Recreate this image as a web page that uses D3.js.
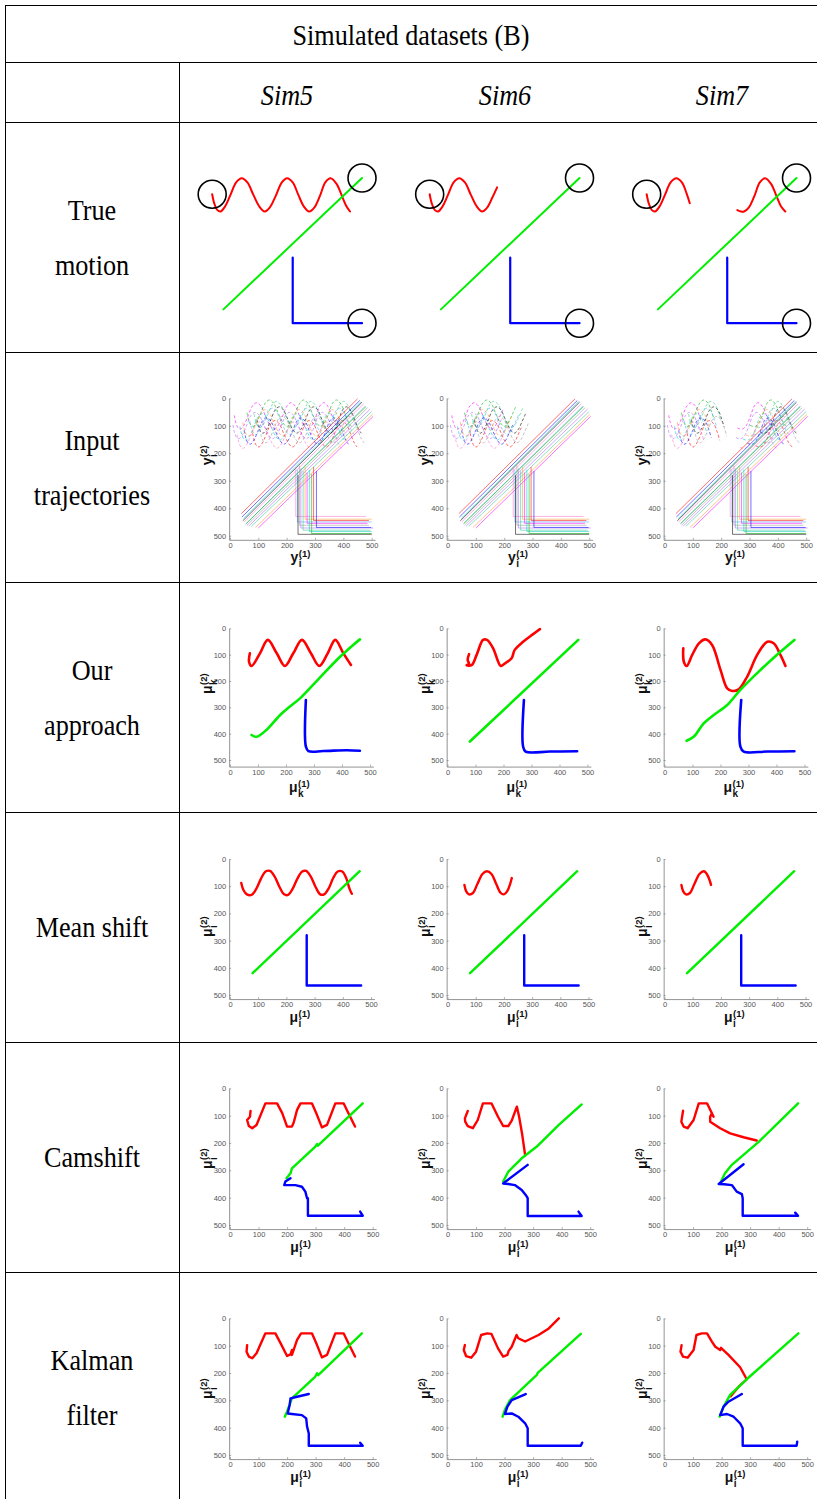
<!DOCTYPE html>
<html>
<head>
<meta charset="utf-8">
<script src="https://cdn.jsdelivr.net/npm/d3@7"></script>
<style>
  body { margin: 0; background: #fff; }
</style>
</head>
<body>
<div id="chart"></div>
<script>
// ---- data (x, y in image pixels of the 500x500 scene, y grows downward) ----
const sims = ["Sim5", "Sim6", "Sim7"];
const rowLabels = [["True", "motion"], ["Input", "trajectories"], ["Our", "approach"],
                   ["Mean shift"], ["Camshift"], ["Kalman", "filter"]];
const tickValues = [0, 100, 200, 300, 400, 500];

// true motion, one list of segments per sim
const truthRed = [
  [[[60,92],[66,120],[74,138],[82,142],[94,128],[108,96],[124,58],[139,46],[154,58],[170,94],[186,128],[200,142],[214,130],[230,96],[246,58],[260,46],[275,58],[290,94],[305,128],[319,142],[333,130],[348,96],[362,58],[376,46],[392,62],[406,96],[418,126],[428,142]]],
  [[[60,92],[66,120],[74,138],[82,142],[94,128],[108,96],[124,58],[139,46],[154,58],[170,94],[186,128],[200,142],[214,130],[228,100],[240,72]]],
  [[[60,92],[66,120],[74,138],[82,142],[94,128],[108,96],[124,58],[139,46],[154,58],[166,88],[175,118]],
   [[302,138],[312,142],[320,142],[333,130],[348,96],[362,58],[376,46],[392,62],[406,96],[418,126],[430,142]]]
];
const truthGreen = [[90,425],[460,45]];
const truthBlue = [[275,275],[275,465],[460,465]];

// input trajectories (noisy copies)
const inDiag = [[40,420,450,2],[42,432,458,8],[45,446,466,14],[50,450,472,20],[55,458,478,28],[60,462,486,34],
                [66,465,494,40],[75,466,500,48],[90,470,503,58],[100,472,505,66],[48,438,463,12],[58,455,480,30]];
const inL = [[232,250,430,480],[238,260,450,500],[245,245,462,490],[250,255,472,505],[258,265,480,495],[265,250,440,500],
             [272,270,455,485],[280,260,485,500],[288,275,492,500],[295,250,445,490],[305,265,470,498],[240,280,495,500]];
const inSineShift = [[-45,-30],[-25,10],[0,-40],[20,35],[-10,25],[35,-15],[-35,40],[10,-10],[45,20],[-50,5],[25,-35],[-15,-5]];
const inColors = ["#ff00ff","#00cccc","#00bb00","#ff0000","#0000ff","#000000","#ff77cc","#55aaff","#999999","#aa66ff","#33cc88","#ff9933"];

// our approach
const oursRed = [
  [[71,95],[68,127],[77,143],[107,95],[135,44],[167,95],[196,143],[226,95],[257,44],[289,95],[319,143],[349,95],[376,44],[405,95],[432,139]],
  [[77,98],[72,120],[77,135],[68,140],[86,140],[104,101],[127,44],[141,44],[163,76],[181,127],[190,143],[211,129],[229,114],[240,82],[270,51],[306,22],[330,3]],
  [[67,76],[69,127],[79,143],[99,101],[123,57],[146,42],[170,63],[200,158],[224,228],[242,238],[265,232],[295,184],[331,101],[367,51],[390,57],[414,101],[432,143]]
];
const oursGreen = [
  [[77,405],[95,412],[131,385],[179,329],[214,297],[250,266],[321,187],[393,108],[440,63],[464,42]],
  [[80,430],[467,44]],
  [[79,427],[105,411],[140,361],[176,329],[224,291],[271,234],[343,158],[414,89],[464,44]]
];
const oursBlue = [
  [[271,272],[271,449],[280,466],[333,466],[417,463],[464,465]],
  [[273,272],[270,449],[279,468],[365,468],[463,467]],
  [[274,272],[271,449],[283,468],[367,468],[464,467]]
];

// mean shift
const msRed = [
  [[40,88],[48,115],[60,130],[76,132],[92,112],[110,72],[126,46],[142,44],[158,64],[176,104],[192,130],[206,132],[222,110],[240,70],[256,46],[270,44],[286,64],[304,104],[320,130],[334,130],[350,108],[366,70],[382,46],[398,46],[412,70],[424,110],[432,128]],
  [[60,95],[66,118],[76,130],[90,125],[106,92],[124,55],[140,45],[156,55],[172,90],[188,124],[200,130],[212,118],[222,92],[228,70]],
  [[60,95],[66,118],[76,130],[90,125],[106,92],[124,55],[140,45],[150,55],[160,78],[165,95]]
];
const msGreen = [[80,420],[460,45]];
const msBlue = [[272,280],[272,465],[465,465]];

// camshift
const camRed = [
  [[72,83],[70,104],[60,116],[66,138],[78,146],[93,134],[124,55],[165,55],[183,91],[200,140],[217,140],[223,126],[235,79],[247,55],[287,55],[305,98],[322,143],[340,134],[369,55],[398,55],[415,91],[438,140]],
  [[71,83],[61,110],[62,122],[71,138],[89,146],[106,116],[124,55],[154,55],[177,104],[195,138],[213,138],[225,118],[243,67],[251,104],[262,171],[272,244]],
  [[65,82],[59,122],[67,140],[81,146],[102,116],[120,55],[149,55],[172,104],[164,95],[160,104],[160,122],[195,146],[230,165],[277,179],[323,191]]
];
const camGreen = [
  [[198,329],[212,311],[217,293],[299,213],[305,204],[308,210],[465,55]],
  [[195,341],[213,305],[260,256],[313,213],[390,134],[470,59]],
  [[198,341],[212,311],[236,280],[331,195],[426,98],[468,55]]
];
const camBlue = [
  [[212,329],[194,341],[190,354],[229,354],[252,360],[264,378],[270,402],[273,402],[273,466],[465,466],[456,451]],
  [[281,280],[195,348],[213,350],[236,354],[260,372],[274,390],[281,402],[281,467],[470,467],[459,451]],
  [[277,278],[190,350],[209,351],[236,354],[253,378],[271,387],[274,402],[274,466],[468,466],[458,455]]
];

// kalman filter
const kfRed = [
  [[60,98],[58,122],[66,140],[78,146],[93,128],[124,55],[159,55],[177,91],[200,138],[212,132],[217,116],[217,134],[235,79],[249,55],[287,55],[305,98],[322,143],[340,134],[369,55],[398,55],[415,91],[438,140]],
  [[61,98],[57,116],[65,138],[83,144],[100,122],[118,61],[139,55],[154,57],[177,110],[195,140],[210,134],[214,120],[225,104],[242,61],[248,73],[272,85],[319,61],[355,37],[390,0]],
  [[60,98],[56,122],[65,140],[81,144],[102,116],[112,61],[131,55],[149,55],[166,85],[178,104],[195,116],[198,108],[224,134],[265,179],[288,223],[260,250],[232,285]]
];
const kfGreen = [
  [[192,360],[200,341],[217,293],[299,213],[305,201],[309,208],[462,55]],
  [[193,360],[201,335],[219,299],[313,207],[316,200],[467,57]],
  [[193,360],[207,323],[230,280],[288,223],[469,55]]
];
const kfBlue = [
  [[276,277],[235,287],[212,293],[209,317],[202,348],[217,350],[252,354],[267,366],[270,396],[276,421],[276,466],[465,466],[456,455]],
  [[274,277],[225,299],[210,323],[201,350],[225,348],[248,360],[272,384],[281,402],[281,466],[467,466],[472,455]],
  [[271,277],[224,305],[207,323],[195,354],[219,350],[242,360],[265,384],[274,402],[274,466],[463,466],[465,451]]
];

// ---- layout ----
const W = 817, H = 1499;
const rowTop = [122, 352, 582, 812, 1042, 1272];
const colX0 = [230, 447.5, 664.5];
const panel = [
  { dy0: 40.4, dy1: 213.3, dx0: -40.3, w: 187.3, axes: false },
  { dy0: 46.3, dy1: 183.7, dx0: 0, w: 141.7, axes: true, base: "y", sub: "i", ylab: 103, ybot: 515 },
  { dy0: 46.3, dy1: 178,   dx0: 0, w: 140,   axes: true, base: "\u03bc", sub: "k", ylab: 101, ybot: 525 },
  { dy0: 47,   dy1: 183,   dx0: 0, w: 141,   axes: true, base: "\u03bc", sub: "i", ylab: 114, ybot: 515 },
  { dy0: 46.3, dy1: 183,   dx0: 0, w: 142.7, axes: true, base: "\u03bc", sub: "i", ylab: 116, ybot: 515 },
  { dy0: 46.3, dy1: 183,   dx0: 0, w: 142.7, axes: true, base: "\u03bc", sub: "i", ylab: 116, ybot: 515 }
];
const RED = "#ff0000", GREEN = "#00ee00", BLUE = "#0000ff";

const svg = d3.select("#chart").append("svg")
  .attr("width", W).attr("height", H)
  .style("font-family", "'Liberation Serif', 'Times New Roman', serif");

// table rules
const rules = svg.append("g").attr("stroke", "#000").attr("stroke-width", 1);
[5.5, 62.5, 122.5].concat(rowTop.slice(1).map(d => d + 0.5)).forEach(y => {
  rules.append("line").attr("x1", 5).attr("x2", W).attr("y1", y).attr("y2", y);
});
rules.append("line").attr("x1", 5.5).attr("x2", 5.5).attr("y1", 5).attr("y2", H);
rules.append("line").attr("x1", 179.5).attr("x2", 179.5).attr("y1", 62).attr("y2", H);

// serif text, drawn a little taller than wide like the scanned table
function serifText(x, y, t, italic) {
  svg.append("text")
    .attr("transform", "translate(" + x + "," + y + ") scale(0.97,1.12)")
    .attr("text-anchor", "middle").attr("dominant-baseline", "central")
    .style("font-size", "27px").style("font-style", italic ? "italic" : "normal")
    .text(t);
}

serifText(411, 35, "Simulated datasets (B)", false);
const colCenter = [287, 505, 722];
sims.forEach((s, i) => serifText(colCenter[i], 95, s, true));

// row labels
rowLabels.forEach((lines, r) => {
  const cy = rowTop[r] + 115;
  lines.forEach((t, k) => {
    const y = lines.length === 1 ? cy : cy + (k === 0 ? -27.5 : 27.5);
    serifText(92, y, t, false);
  });
});

// small axis label with stacked sub/superscript
function stacked(g, base, sub, sup, cx, cy, rot) {
  const t = g.append("g")
    .attr("transform", "translate(" + cx + "," + cy + ")" + (rot ? " rotate(-90)" : "") + " translate(-3.5,0)")
    .style("font-family", "'Liberation Sans', Arial, sans-serif").style("font-weight", "bold").attr("fill", "#111");
  t.append("text").attr("x", 1).attr("y", 4).attr("text-anchor", "end").style("font-size", "14px").text(base);
  t.append("text").attr("x", 1.5).attr("y", 9).style("font-size", "10px").text(sub);
  t.append("text").attr("x", 1.5).attr("y", -1).style("font-size", "9.5px").text(sup);
}

function drawPath(g, pts, x, y, color, width, curve) {
  g.append("path")
    .datum(pts)
    .attr("d", d3.line().x(d => x(d[0])).y(d => y(d[1])).curve(curve))
    .attr("fill", "none").attr("stroke", color).attr("stroke-width", width)
    .attr("stroke-linejoin", "round").attr("stroke-linecap", "round");
}

const smooth = d3.curveCatmullRom.alpha(0.5);

for (let r = 0; r < 6; r++) {
  for (let c = 0; c < 3; c++) {
    const p = panel[r];
    const x0 = colX0[c] + p.dx0;
    const x = d3.scaleLinear().domain([0, 500]).range([x0, x0 + p.w]);
    const y = d3.scaleLinear().domain([0, 500]).range([rowTop[r] + p.dy0, rowTop[r] + p.dy1]);
    const g = svg.append("g");

    if (p.axes) {
      const xa = x.copy().domain([-3, 512]).range([x(-3), x(512)]);
      const ya = y.copy().domain([0, p.ybot]).range([y(0), y(p.ybot)]);
      const ax = g.append("g").attr("transform", "translate(0," + ya(p.ybot) + ")")
        .call(d3.axisBottom(xa).tickValues(tickValues).tickSizeInner(-2).tickSizeOuter(0).tickPadding(3));
      const ay = g.append("g").attr("transform", "translate(" + xa(-3) + ",0)")
        .call(d3.axisLeft(ya).tickValues(tickValues).tickSizeInner(-2).tickSizeOuter(0).tickPadding(3));
      [ax, ay].forEach(a => {
        a.select(".domain").attr("stroke", "#777").attr("stroke-width", 0.8);
        a.selectAll(".tick line").attr("stroke", "#777").attr("stroke-width", 0.6);
        a.selectAll(".tick text").attr("fill", "#555")
          .style("font-family", "'Liberation Sans', Arial, sans-serif").style("font-size", "7.5px");
      });
      stacked(g, p.base, p.sub, "(1)", x(250), rowTop[r] + 206, false);
      stacked(g, p.base, p.sub, "(2)", x0 - 22, rowTop[r] + p.ylab, true);
    }

    if (r === 0) {
      truthRed[c].forEach(seg => drawPath(g, seg, x, y, RED, 2, smooth));
      drawPath(g, truthGreen, x, y, GREEN, 2, d3.curveLinear);
      drawPath(g, truthBlue, x, y, BLUE, 2.2, d3.curveLinear);
      const marks = [truthRed[c][0][0], truthGreen[truthGreen.length - 1], truthBlue[truthBlue.length - 1]];
      g.selectAll("circle.mark").data(marks).enter().append("circle")
        .attr("cx", d => x(d[0])).attr("cy", d => y(d[1])).attr("r", 14)
        .attr("fill", "none").attr("stroke", "#000").attr("stroke-width", 1.6);
    } else if (r === 1) {
      inSineShift.forEach((s, k) => {
        truthRed[c].forEach(seg => {
          g.append("path").datum(seg.map(d => [d[0] + s[0], d[1] + s[1]]))
            .attr("d", d3.line().x(d => x(d[0])).y(d => y(d[1])).curve(smooth))
            .attr("fill", "none").attr("stroke", inColors[k % inColors.length])
            .attr("stroke-width", 0.8).attr("stroke-dasharray", "3,2").attr("opacity", 0.75);
        });
      });
      inDiag.forEach((d, k) => {
        g.append("line").attr("x1", x(d[0])).attr("y1", y(d[1])).attr("x2", x(d[2])).attr("y2", y(d[3]))
          .attr("stroke", inColors[(k + 3) % inColors.length]).attr("stroke-width", 0.7).attr("opacity", 0.8);
      });
      inL.forEach((d, k) => {
        g.append("path").attr("d", "M" + x(d[0]) + "," + y(d[1]) + "V" + y(d[2]) + "H" + x(d[3]))
          .attr("fill", "none").attr("stroke", inColors[(k + 6) % inColors.length])
          .attr("stroke-width", 0.7).attr("opacity", 0.8);
      });
    } else if (r === 2) {
      drawPath(g, oursRed[c], x, y, RED, 2.6, smooth);
      drawPath(g, oursGreen[c], x, y, GREEN, 2.6, smooth);
      drawPath(g, oursBlue[c], x, y, BLUE, 2.6, smooth);
    } else if (r === 3) {
      drawPath(g, msRed[c], x, y, RED, 2.4, smooth);
      drawPath(g, msGreen, x, y, GREEN, 2.4, d3.curveLinear);
      drawPath(g, msBlue, x, y, BLUE, 2.4, d3.curveLinear);
    } else if (r === 4) {
      drawPath(g, camRed[c], x, y, RED, 2.4, d3.curveLinear);
      drawPath(g, camGreen[c], x, y, GREEN, 2.4, d3.curveLinear);
      drawPath(g, camBlue[c], x, y, BLUE, 2.4, d3.curveLinear);
    } else {
      drawPath(g, kfRed[c], x, y, RED, 2.4, d3.curveLinear);
      drawPath(g, kfGreen[c], x, y, GREEN, 2.4, d3.curveLinear);
      drawPath(g, kfBlue[c], x, y, BLUE, 2.4, d3.curveLinear);
    }
  }
}
</script>
</body>
</html>
